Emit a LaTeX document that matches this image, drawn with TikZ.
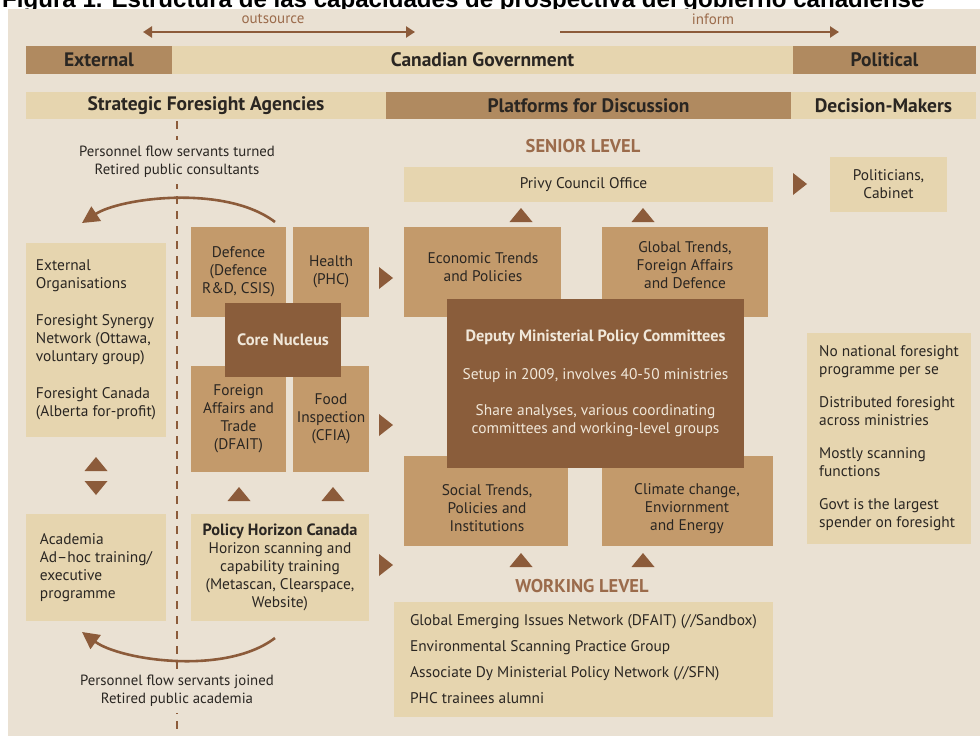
\documentclass[tikz,border=0pt]{standalone}
\usepackage{fontspec}
\setmainfont{PT Sans}
\newfontfamily\titlefont{Liberation Sans}
\usetikzlibrary{arrows.meta}
\definecolor{bgc}{HTML}{EAE1D3}
\definecolor{lightc}{HTML}{E6D5AF}
\definecolor{hdrc}{HTML}{B08A60}
\definecolor{tanc}{HTML}{C39A6B}
\definecolor{darkc}{HTML}{8A5D3B}
\definecolor{arrc}{HTML}{8C5B3A}
\definecolor{txtc}{HTML}{2A2622}
\definecolor{creamc}{HTML}{F0E7D9}
\definecolor{lvlc}{HTML}{9B6B4B}
\newcommand\rtri[2]{\fill[arrc] (#1-7,#2-11) -- (#1+7,#2) -- (#1-7,#2+11) -- cycle;}
\newcommand\utri[2]{\fill[arrc] (#1-11.5,#2+7) -- (#1,#2-7) -- (#1+11.5,#2+7) -- cycle;}
\newcommand\dtri[2]{\fill[arrc] (#1-11.5,#2-7) -- (#1,#2+7) -- (#1+11.5,#2-7) -- cycle;}
\newcommand\bigbold[1]{{\fontsize{16.3}{18}\selectfont\bfseries #1}}
\tikzset{
  box/.style={inner sep=0pt, text=txtc, font=\fontsize{15.4}{18}\selectfont},
  lightbox/.style={box, fill=lightc},
  tanbox/.style={box, fill=tanc},
  darkbox/.style={box, fill=darkc, text=creamc},
  hdrlight/.style={box, fill=lightc, font=\bfseries\fontsize{19.5}{20}\selectfont},
  hdrdark/.style={box, fill=hdrc, font=\bfseries\fontsize{19.5}{20}\selectfont},
  plaintext/.style={inner sep=0pt, text=txtc, font=\fontsize{15.4}{18}\selectfont, align=center},
  flowtext/.style={plaintext, font=\fontsize{14.8}{18}\selectfont, fill=bgc, inner xsep=3pt, inner ysep=6pt},
  lvltext/.style={inner sep=0pt, text=lvlc, font=\bfseries\fontsize{18.5}{20}\selectfont},
  toptext/.style={inner sep=0pt, text=lvlc, font=\fontsize{15}{16}\selectfont},
  toparrow/.style={draw=arrc, line width=2.4pt},
  curvearrow/.style={draw=arrc, line width=2.6pt, -{Triangle[length=17pt,width=17pt]}},
  dashline/.style={draw=arrc, line width=2.6pt, dash pattern=on 8pt off 7pt}
}
\begin{document}
\begin{tikzpicture}[x=1pt,y=-1pt]
\useasboundingbox (0,0) rectangle (980,736);
% title
\node[anchor=base west, inner sep=0pt] (title) at (2,8) {\titlefont\bfseries\fontsize{24.1}{28}\selectfont Figura 1. Estructura de las capacidades de prospectiva del gobierno canadiense};
\fill[bgc] (8,9) rectangle (980,736);

% top arrows
\coordinate (osl) at (143,32);
\coordinate (osr) at (415,32);
\draw[toparrow, {Triangle[length=9pt,width=11pt]}-{Triangle[length=9pt,width=11pt]}] (osl) -- (osr);
\node[toptext] (outsource) at (273,19) {outsource};
\coordinate (infl) at (560,32);
\coordinate (infr) at (839,32);
\draw[toparrow, -{Triangle[length=9pt,width=11pt]}] (infl) -- (infr);
\node[toptext] (inform) at (713,19) {inform};

% header rows
\node[hdrdark, minimum width=146pt, minimum height=28pt] (external) at (99,60) {External};
\node[hdrlight, minimum width=621pt, minimum height=28pt] (cangov) at (482.5,60) {Canadian Government};
\node[hdrdark, minimum width=183pt, minimum height=28pt] (political) at (884.5,60) {Political};
\node[hdrlight, minimum width=360pt, minimum height=27pt] (sfa) at (206,105.5) {Strategic Foresight Agencies};
\node[hdrdark, minimum width=405pt, minimum height=27pt] (pfd) at (588.5,105.5) {Platforms for Discussion};
\node[hdrlight, minimum width=185pt, minimum height=27pt] (dm) at (883.5,105.5) {Decision-Makers};

% dashed divider
\coordinate (dtop) at (177,121);
\coordinate (dbot) at (177,736);
\draw[dashline] (dtop) -- (dbot);
\node[flowtext] (flowtop) at (177,162) {Personnel flow servants turned\\Retired public consultants};
\node[flowtext] (flowbot) at (177,691) {Personnel flow servants joined\\Retired public academia};

% left column
\node[lightbox, minimum width=140pt, minimum height=194pt, align=left] (extorg) at (96,340)
  {External\\Organisations\\[19pt]Foresight Synergy\\Network (Ottawa,\\voluntary group)\\[19pt]Foresight Canada\\(Alberta for-profit)};
\node[lightbox, minimum width=140pt, minimum height=107pt, align=left] (academia) at (96,567.5)
  {Academia\\Ad--hoc training/\\executive\\programme};
\utri{96}{464}
\dtri{96}{488}

% core cluster
\node[tanbox, minimum width=95pt, minimum height=90pt, align=center] (defence) at (238.5,272) {Defence\\(Defence\\R\&D, CSIS)};
\node[tanbox, minimum width=76pt, minimum height=90pt, align=center] (health) at (331,272) {Health\\(PHC)};
\node[tanbox, minimum width=95pt, minimum height=106pt, align=center] (dfait) at (238.5,419) {Foreign\\Affairs and\\Trade\\(DFAIT)};
\node[tanbox, minimum width=76pt, minimum height=106pt, align=center] (cfia) at (331,419) {Food\\Inspection\\(CFIA)};
\node[darkbox, minimum width=116pt, minimum height=74pt, font=\bfseries\fontsize{16.5}{18}\selectfont] (core) at (283,340) {Core Nucleus};
\node[lightbox, minimum width=178pt, minimum height=107pt, align=center] (phc) at (280,567.5)
  {\bigbold{Policy Horizon Canada}\\Horizon scanning and\\capability training\\(Metascan, Clearspace,\\Website)};
\utri{239}{494}
\utri{333}{494}
\rtri{386}{278}
\rtri{386}{425}
\rtri{386}{565}

% platforms
\node[lvltext] (senior) at (583,146) {SENIOR LEVEL};
\node[lightbox, minimum width=369pt, minimum height=35pt] (privy) at (588.5,184.5) {\hspace*{-10pt}Privy Council Office};
\utri{521}{215}
\utri{643}{215}
\node[tanbox, minimum width=157pt, minimum height=90pt] (econ) at (482.5,272) {};
\node[plaintext] (econt) at (483,267.5) {Economic Trends\\and Policies};
\node[tanbox, minimum width=166pt, minimum height=90pt] (global) at (685,272) {};
\node[plaintext] (globalt) at (685,265.5) {Global Trends,\\Foreign Affairs\\and Defence};
\node[tanbox, minimum width=164pt, minimum height=90pt] (social) at (486,501) {};
\node[plaintext] (socialt) at (487,508.5) {Social Trends,\\Policies and\\Institutions};
\node[tanbox, minimum width=171pt, minimum height=90pt] (climate) at (687.5,501) {};
\node[plaintext] (climatet) at (687,509) {Climate change,\\Enviornment\\and Energy};
\node[darkbox, minimum width=297pt, minimum height=169pt, align=center] (deputy) at (595.5,383.5)
  {\bigbold{Deputy Ministerial Policy Committees}\\[20pt]Setup in 2009, involves 40-50 ministries\\[18pt]Share analyses, various coordinating\\committees and working-level groups};
\utri{521}{560}
\utri{643}{560}
\node[lvltext] (working) at (582,586) {WORKING LEVEL};
\node[lightbox, minimum width=379pt, minimum height=115pt, align=left] (wlbox) at (583.5,659.5)
  {Global Emerging Issues Network (DFAIT) (//Sandbox)\\[8pt]Environmental Scanning Practice Group\\[8pt]Associate Dy Ministerial Policy Network (//SFN)\\[8pt]PHC trainees alumni};

% decision makers
\rtri{800}{184}
\node[lightbox, minimum width=117pt, minimum height=55pt, align=center] (pols) at (888.5,184.5) {Politicians,\\Cabinet};
\node[lightbox, minimum width=164pt, minimum height=211pt, align=left] (notes) at (889,438.5)
  {No national foresight\\programme per se\\[15pt]Distributed foresight\\across ministries\\[15pt]Mostly scanning\\functions\\[15pt]Govt is the largest\\spender on foresight};

% curved personnel-flow arrows
\coordinate (c1s) at (275,222);
\coordinate (c1e) at (82,223);
\draw[curvearrow] (c1s) .. controls (225,184) and (120,198) .. (c1e);
\coordinate (c2s) at (275,638);
\coordinate (c2e) at (82,632);
\draw[curvearrow] (c2s) .. controls (225,676) and (120,660) .. (c2e);
\end{tikzpicture}
\end{document}
